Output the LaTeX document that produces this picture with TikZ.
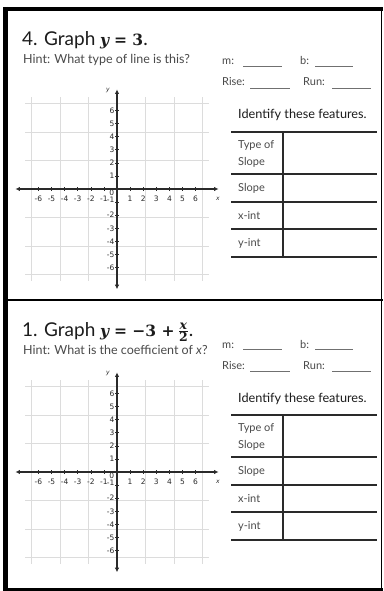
\documentclass[tikz,border=0pt]{standalone}
\usepackage{fontspec}
\setmainfont{Lato}
\newfontfamily\tickfont{DejaVu Sans}
\newfontfamily\eqfont{DejaVu Serif}
\usetikzlibrary{arrows.meta}
\definecolor{gridgray}{HTML}{DCDCDC}
\definecolor{axisgray}{HTML}{2A2A2A}
\definecolor{textgray}{HTML}{4A4A4A}
\definecolor{inkdark}{HTML}{1C1C1C}
\definecolor{blankgray}{HTML}{707070}
\newcommand\eqbf[1]{{\eqfont\bfseries\fontsize{15.5}{18}\selectfont #1}}
\newcommand\eqsm[1]{\hbox{\eqfont\bfseries\fontsize{12.5}{13}\selectfont #1}}
\tikzset{
  titletext/.style={font=\fontsize{19}{22}\selectfont, text=inkdark, inner sep=0pt, anchor=base west},
  hinttext/.style={font=\fontsize{12.5}{14}\selectfont, text=textgray, inner sep=0pt, anchor=base west},
  fieldtext/.style={font=\fontsize{11}{13}\selectfont, text=textgray, inner sep=0pt, anchor=base west},
  headtext/.style={font=\fontsize{12.7}{14}\selectfont, text=inkdark, inner sep=0pt, anchor=base west},
  rowtext/.style={font=\fontsize{11}{13}\selectfont, text=textgray, inner sep=0pt, anchor=base west},
  blankline/.style={draw=blankgray, line width=0.9pt},
  tableline/.style={draw=axisgray, line width=1.1pt},
  gridline/.style={draw=gridgray, line width=0.8pt},
  axisline/.style={draw=axisgray, line width=1.2pt, {Latex[length=4.5pt,width=4.5pt]}-{Latex[length=4.5pt,width=4.5pt]}},
  tickmark/.style={draw=axisgray, line width=0.6pt},
  ticklabel/.style={font=\tickfont\fontsize{7.5}{8}\selectfont, text=axisgray, inner sep=0pt},
  frameline/.style={draw=black},
}
\newcommand\coordpanel[1]{%
  \begin{scope}[shift={(117,189)}, x=13.1pt, y=13.1pt]
    \draw[gridline] (-7,-7) grid (7,7);
    \coordinate (#1xl) at (-7.75,0);
    \coordinate (#1xr) at (7.75,0);
    \coordinate (#1yb) at (0,-7.65);
    \coordinate (#1yt) at (0,7.6);
    \draw[axisline] (#1xl) -- (#1xr);
    \draw[axisline] (#1yb) -- (#1yt);
    \foreach \i in {-6,-5,-4,-3,-2,-1,1,2,3,4,5,6} {
      \draw[tickmark] (\i,-0.15) -- (\i,0.15);
      \draw[tickmark] (-0.15,\i) -- (0.15,\i);
      \node[ticklabel] (#1x\i) at (\i,-0.75) {\i};
    }
    \foreach \i in {-6,-5,-4,-3,-2,2,3,4,5,6,1} {
      \node[ticklabel, anchor=east] (#1y\i) at (-0.18,\i) {\i};
    }
    \node[ticklabel, anchor=east] (#1ym1) at (-0.18,-0.85) {-1};
    \node[ticklabel] (#1zero) at (-0.4,-0.3) {0};
    \node[ticklabel, font=\tickfont\fontsize{6}{7}\selectfont] (#1ylab) at (-0.7,7.55) {\itshape y};
    \node[ticklabel, font=\tickfont\fontsize{6}{7}\selectfont] (#1xlab) at (7.7,-0.75) {\itshape x};
  \end{scope}}
\newcommand\fieldpanel[1]{%
  \node[fieldtext] (#1m) at (222,65) {m:};
  \coordinate (#1ma) at (243,66.5); \coordinate (#1mb) at (282,66.5);
  \draw[blankline] (#1ma) -- (#1mb);
  \node[fieldtext] (#1b) at (300,65) {b:};
  \coordinate (#1ba) at (315,66.5); \coordinate (#1bb) at (353,66.5);
  \draw[blankline] (#1ba) -- (#1bb);
  \node[fieldtext] (#1rise) at (222,86) {Rise:};
  \coordinate (#1ra) at (250,88); \coordinate (#1rb) at (290,88);
  \draw[blankline] (#1ra) -- (#1rb);
  \node[fieldtext] (#1run) at (303,86) {Run:};
  \coordinate (#1na) at (332,88); \coordinate (#1nb) at (371,88);
  \draw[blankline] (#1na) -- (#1nb);
  \node[headtext] (#1head) at (238,119) {Identify these features.};
  \foreach \yy/\nm in {132/a,174/b,202/c,229/d,257/e} {
    \coordinate (#1L\nm) at (231,\yy); \coordinate (#1R\nm) at (377,\yy);
    \draw[tableline] (#1L\nm) -- (#1R\nm);
  }
  \coordinate (#1vt) at (283,132); \coordinate (#1vb) at (283,257);
  \draw[tableline] (#1vt) -- (#1vb);
  \node[rowtext] (#1type) at (238,148) {Type of};
  \node[rowtext] (#1type2) at (238,165.5) {Slope};
  \node[rowtext] (#1slope) at (238,191) {Slope};
  \node[rowtext] (#1xint) at (238,219) {x-int};
  \node[rowtext] (#1yint) at (238,246) {y-int};
}
\begin{document}
\begin{tikzpicture}[x=1pt, y=-1pt]
  \useasboundingbox[fill=white] (0,0) rectangle (383,591);
  % panel 1
  \node[titletext] (title1) at (22,46) {4. Graph \eqbf{\itshape y} \eqbf{= 3}.};
  \node[hinttext] (hint1) at (23,64) {Hint: What type of line is this?};
  \fieldpanel{p}
  \coordpanel{p}
  % panel 2
  \node[titletext] (title2) at (22,336) {1. Graph \eqbf{\itshape y} \eqbf{= −3 +}\,$\frac{\eqsm{\itshape x}}{\eqsm{2}}$.};
  \node[hinttext] (hint2) at (23,354) {Hint: What is the coefficient of \textit{x}?};
  \begin{scope}[yshift=-283pt]
    \fieldpanel{q}
    \coordpanel{q}
  \end{scope}
  % frame
  \draw[frameline, line width=4pt] (3,9) -- (382.5,9);
  \draw[frameline, line width=5pt] (5.8,7) -- (5.8,591);
  \draw[frameline, line width=1.5pt] (381.5,7) -- (381.5,590);
  \draw[frameline, line width=3pt] (3,589) -- (382.5,589);
  \draw[frameline, line width=2.5pt] (5.8,300) -- (382.5,300);
\end{tikzpicture}
\end{document}
